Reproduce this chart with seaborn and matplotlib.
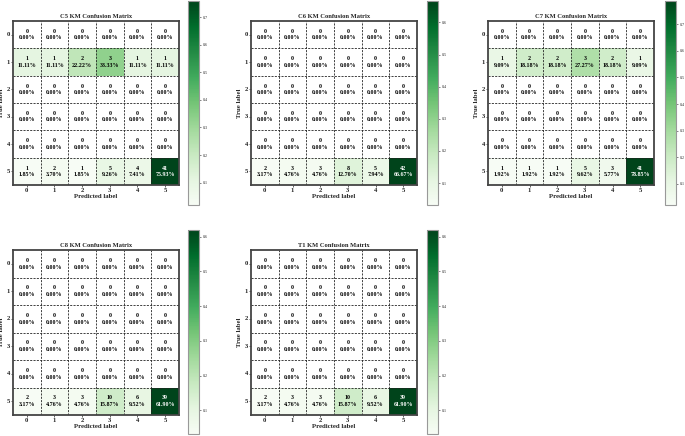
import numpy as np
import matplotlib
matplotlib.use("Agg")
import matplotlib.pyplot as plt
import seaborn as sns

# ── Data (confusion matrix counts, rows = true, cols = predicted) ─────
LABELS = ["0", "1", "2", "3", "4", "5"]
TITLES = ["C5 KM Confusion Matrix", "C6 KM Confusion Matrix", "C7 KM Confusion Matrix",
          "C8 KM Confusion Matrix", "T1 KM Confusion Matrix"]

C5_COUNTS = [[0, 0, 0, 0, 0, 0],
             [1, 1, 2, 3, 1, 1],
             [0, 0, 0, 0, 0, 0],
             [0, 0, 0, 0, 0, 0],
             [0, 0, 0, 0, 0, 0],
             [1, 2, 1, 5, 4, 41]]
C6_COUNTS = [[0, 0, 0, 0, 0, 0],
             [0, 0, 0, 0, 0, 0],
             [0, 0, 0, 0, 0, 0],
             [0, 0, 0, 0, 0, 0],
             [0, 0, 0, 0, 0, 0],
             [2, 3, 3, 8, 5, 42]]
C7_COUNTS = [[0, 0, 0, 0, 0, 0],
             [1, 2, 2, 3, 2, 1],
             [0, 0, 0, 0, 0, 0],
             [0, 0, 0, 0, 0, 0],
             [0, 0, 0, 0, 0, 0],
             [1, 1, 1, 5, 3, 41]]
C8_COUNTS = [[0, 0, 0, 0, 0, 0],
             [0, 0, 0, 0, 0, 0],
             [0, 0, 0, 0, 0, 0],
             [0, 0, 0, 0, 0, 0],
             [0, 0, 0, 0, 0, 0],
             [2, 3, 3, 10, 6, 39]]
T1_COUNTS = [[0, 0, 0, 0, 0, 0],
             [0, 0, 0, 0, 0, 0],
             [0, 0, 0, 0, 0, 0],
             [0, 0, 0, 0, 0, 0],
             [0, 0, 0, 0, 0, 0],
             [2, 3, 3, 10, 6, 39]]

ALL_COUNTS = [C5_COUNTS, C6_COUNTS, C7_COUNTS, C8_COUNTS, T1_COUNTS]

# ── Layout (pixels in a 685x436 figure) ───────────────────────────────
W, H = 685, 436
HM_X = [13, 251, 488]
CB_X = [188, 427, 665]
ROWS = [  # (heatmap top, heatmap bottom, cbar top, cbar bottom)
    (21, 185, 1, 205),
    (250, 415, 230, 434),
]

sns.set_style("white")
plt.rcParams["font.family"] = ["Liberation Serif", "DejaVu Serif"]
plt.rcParams["font.weight"] = "bold"

fig = plt.figure(figsize=(W / 100, H / 100), dpi=100)


def px_box(x0, x1, y0, y1):
    return [x0 / W, 1 - y1 / H, (x1 - x0) / W, (y1 - y0) / H]


for i, counts in enumerate(ALL_COUNTS):
    r, c = divmod(i, 3)
    hy0, hy1, cy0, cy1 = ROWS[r]
    ax = fig.add_axes(px_box(HM_X[c], HM_X[c] + 166, hy0, hy1))
    cax = fig.add_axes(px_box(CB_X[c], CB_X[c] + 11, cy0, cy1))

    cm = np.array(counts, dtype=float)
    row_sum = cm.sum(axis=1, keepdims=True)
    with np.errstate(invalid="ignore", divide="ignore"):
        norm = cm / row_sum  # empty rows -> NaN, left blank
    pct = np.nan_to_num(norm)

    sns.heatmap(norm, ax=ax, cbar_ax=cax, cmap="Greens", annot=False,
                xticklabels=LABELS, yticklabels=LABELS, linewidths=0)

    # cell text: count + row percentage
    for a in range(6):
        for b in range(6):
            col = "white" if pct[a, b] > 0.5 else "black"
            ax.text(b + 0.5, a + 0.5, f"{int(cm[a, b])}\n{pct[a, b] * 100:.2f}%",
                    ha="center", va="center", fontsize=4.3, fontweight="bold",
                    color=col, linespacing=1.4)

    for k in range(1, 6):
        ax.axhline(k, color="#222222", lw=0.6, ls=(0, (2.5, 1.5)))
        ax.axvline(k, color="#222222", lw=0.6, ls=(0, (2.5, 1.5)))
    for s in ax.spines.values():
        s.set_visible(True)
        s.set_color("#444444")
        s.set_linewidth(1.3)

    ax.set_title(TITLES[i], fontsize=4.7, fontweight="bold", pad=2)
    ax.set_xlabel("Predicted label", fontsize=4.9, fontweight="bold", labelpad=0.5)
    ax.set_ylabel("True label", fontsize=4.9, fontweight="bold")
    ax.yaxis.set_label_coords(-0.052, 0.5)
    ax.tick_params(axis="both", length=1.5, width=0.5, pad=0.6, labelsize=4.8,
                   bottom=True, left=True)
    plt.setp(ax.get_yticklabels(), rotation=0)

    cax.tick_params(labelsize=3, length=1.5, width=0.4, pad=1)
    for t in cax.get_yticklabels():
        t.set_fontweight("normal")
    cb = ax.collections[0].colorbar
    cb.outline.set_edgecolor("#999999")
    cb.outline.set_linewidth(0.8)

fig.savefig("out.png", dpi=100)
